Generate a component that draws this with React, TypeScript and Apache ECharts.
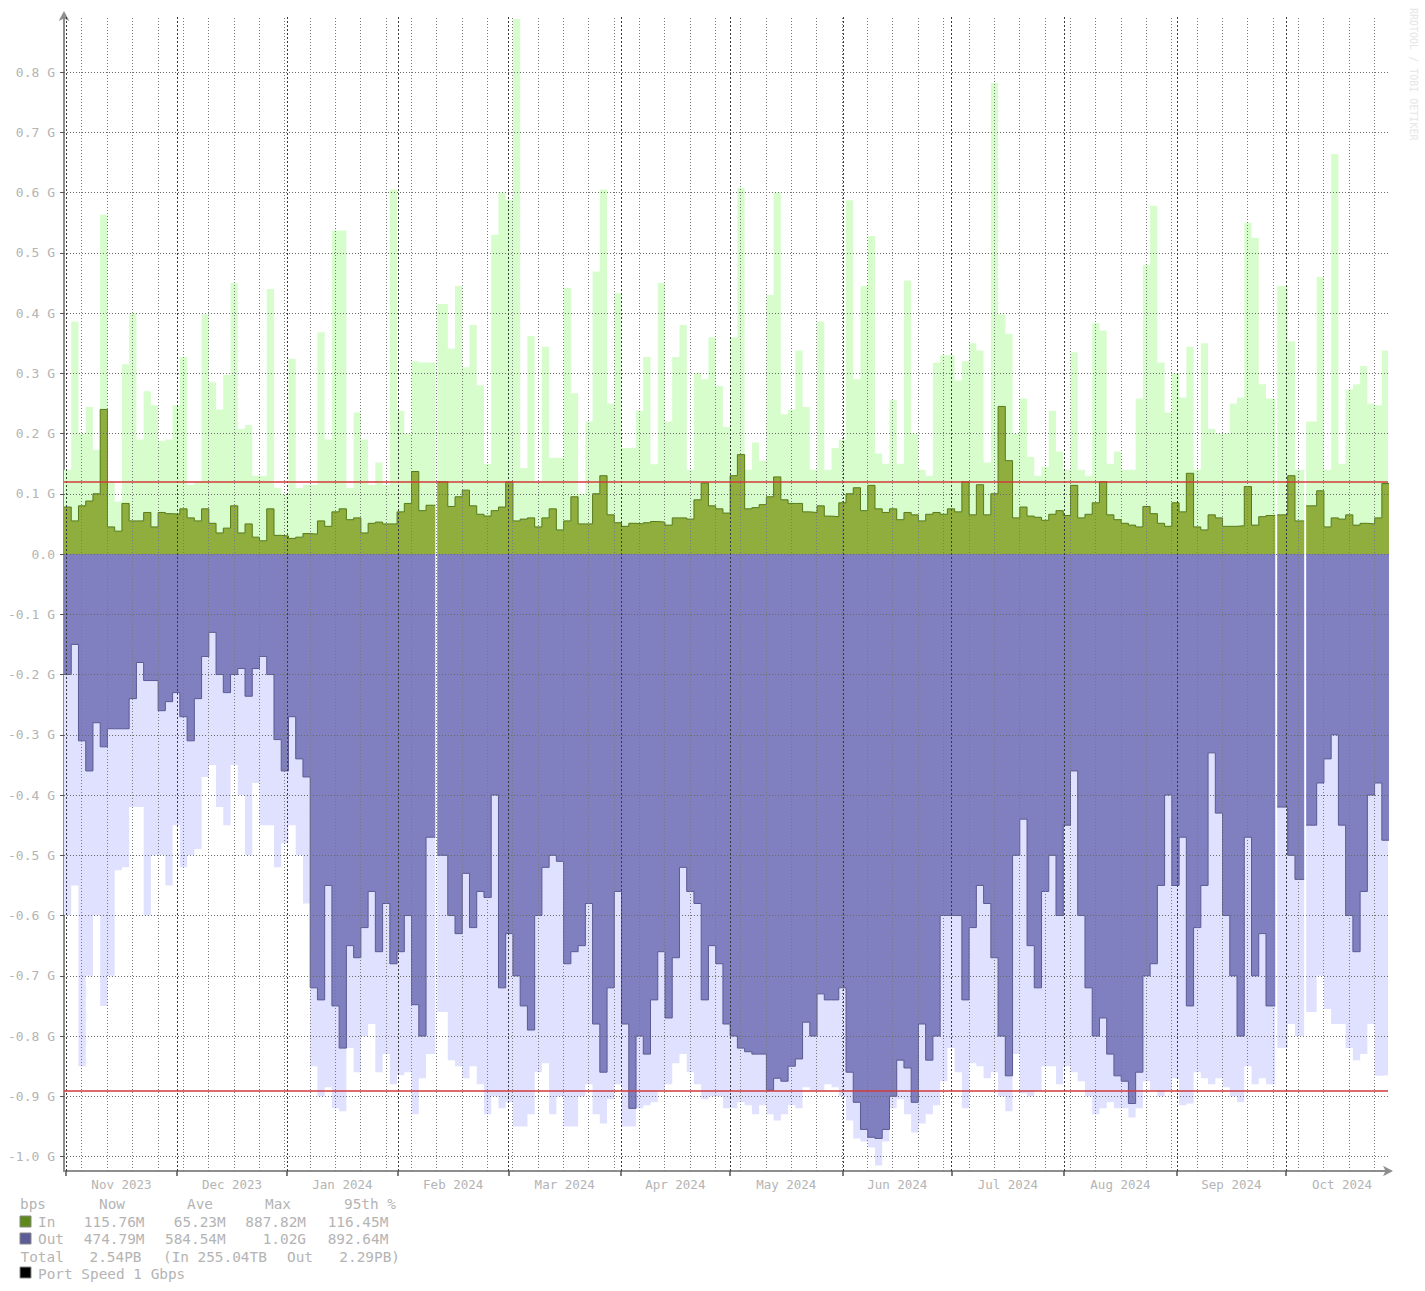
import React, { useEffect, useRef } from 'react';
import * as echarts from 'echarts';

// ---- axis / label data ----
const monthLabels = ['Nov 2023', 'Dec 2023', 'Jan 2024', 'Feb 2024', 'Mar 2024', 'Apr 2024',
  'May 2024', 'Jun 2024', 'Jul 2024', 'Aug 2024', 'Sep 2024', 'Oct 2024'];
// day offsets (from graph start) of the month boundaries; last entry closes October
const monthStartDays = [0.55, 31.2, 61.6, 92.2, 122.8, 153.8, 183.9, 215.1, 245.2, 276.2, 307.4, 337.5, 368.5];
const FIRST_WEEK_DAY = 4.9;
const yTickValues = [-1.0, -0.9, -0.8, -0.7, -0.6, -0.5, -0.4, -0.3, -0.2, -0.1, 0, 0.1, 0.2, 0.3, 0.4, 0.5, 0.6, 0.7, 0.8];

const DAYS_PER_POINT = 2;
const GAP_DAYS = 1.1;
const X_MAX = 365.7;
const Y_MIN = -1.024;
const Y_MAX = 0.893;

// ---- series values (Gbps), one value per 2 days; null = missing data ----
const inAvg: (number | null)[] = [
  0.078, 0.055, 0.08, 0.088, 0.1, 0.24, 0.045, 0.038, 0.084, 0.055,
  0.055, 0.069, 0.045, 0.069, 0.067, 0.066, 0.075, 0.06, 0.055, 0.075,
  0.051, 0.035, 0.043, 0.08, 0.035, 0.05, 0.028, 0.022, 0.075, 0.031,
  0.03, 0.026, 0.028, 0.034, 0.033, 0.055, 0.046, 0.07, 0.075, 0.057,
  0.06, 0.035, 0.051, 0.053, 0.05, 0.05, 0.07, 0.084, 0.137, 0.072,
  0.081, null, 0.12, 0.079, 0.095, 0.106, 0.08, 0.066, 0.063, 0.072,
  0.078, 0.12, 0.055, 0.058, 0.06, 0.045, 0.06, 0.075, 0.04, 0.055,
  0.095, 0.05, 0.05, 0.1, 0.13, 0.065, 0.052, 0.046, 0.051, 0.05,
  0.052, 0.054, 0.053, 0.048, 0.06, 0.06, 0.058, 0.09, 0.118, 0.08,
  0.075, 0.068, 0.13, 0.165, 0.075, 0.077, 0.082, 0.095, 0.128, 0.09,
  0.084, 0.084, 0.07, 0.069, 0.08, 0.063, 0.062, 0.085, 0.1, 0.11,
  0.072, 0.114, 0.075, 0.069, 0.075, 0.057, 0.069, 0.065, 0.055, 0.066,
  0.069, 0.066, 0.075, 0.07, 0.12, 0.065, 0.115, 0.065, 0.1, 0.245,
  0.155, 0.06, 0.078, 0.063, 0.061, 0.056, 0.066, 0.072, 0.064, 0.114,
  0.06, 0.066, 0.085, 0.12, 0.065, 0.057, 0.051, 0.048, 0.045, 0.079,
  0.067, 0.051, 0.046, 0.085, 0.07, 0.134, 0.045, 0.04, 0.065, 0.06,
  0.046, 0.046, 0.047, 0.112, 0.048, 0.062, 0.064, null, 0.065, 0.13,
  0.055, null, 0.08, 0.105, 0.045, 0.06, 0.058, 0.065, 0.048, 0.051,
  0.05, 0.06, 0.117,
];

const inMax: (number | null)[] = [
  0.14, 0.386, 0.2, 0.244, 0.173, 0.563, 0.12, 0.087, 0.315, 0.4,
  0.19, 0.27, 0.247, 0.188, 0.19, 0.247, 0.327, 0.115, 0.12, 0.398,
  0.285, 0.24, 0.297, 0.45, 0.208, 0.214, 0.13, 0.13, 0.44, 0.11,
  0.1, 0.324, 0.11, 0.115, 0.115, 0.368, 0.19, 0.537, 0.537, 0.11,
  0.235, 0.19, 0.115, 0.152, 0.115, 0.605, 0.238, 0.2, 0.32, 0.318,
  0.318, null, 0.415, 0.341, 0.445, 0.31, 0.38, 0.28, 0.15, 0.53,
  0.6, 0.588, 0.888, 0.143, 0.362, 0.12, 0.344, 0.16, 0.16, 0.442,
  0.267, 0.1, 0.22, 0.469, 0.605, 0.25, 0.433, 0.176, 0.176, 0.238,
  0.327, 0.149, 0.45, 0.22, 0.327, 0.38, 0.14, 0.3, 0.29, 0.36,
  0.279, 0.211, 0.36, 0.608, 0.14, 0.185, 0.155, 0.43, 0.6, 0.232,
  0.24, 0.338, 0.244, 0.14, 0.386, 0.14, 0.176, 0.19, 0.587, 0.29,
  0.445, 0.528, 0.167, 0.15, 0.256, 0.15, 0.454, 0.2, 0.14, 0.13,
  0.318, 0.33, 0.33, 0.288, 0.32, 0.35, 0.338, 0.152, 0.782, 0.398,
  0.365, 0.2, 0.258, 0.161, 0.13, 0.145, 0.238, 0.17, 0.14, 0.335,
  0.14, 0.13, 0.383, 0.371, 0.15, 0.17, 0.14, 0.14, 0.258, 0.48,
  0.578, 0.318, 0.235, 0.3, 0.26, 0.344, 0.14, 0.35, 0.208, 0.2,
  0.2, 0.25, 0.26, 0.55, 0.525, 0.282, 0.258, null, 0.445, 0.353,
  0.14, null, 0.22, 0.46, 0.14, 0.664, 0.15, 0.273, 0.282, 0.312,
  0.25, 0.247, 0.338,
];

const outAvg: (number | null)[] = [
  0.2, 0.15, 0.31, 0.36, 0.28, 0.32, 0.29, 0.29, 0.29, 0.24,
  0.18, 0.21, 0.21, 0.26, 0.245, 0.23, 0.27, 0.31, 0.24, 0.17,
  0.13, 0.2, 0.23, 0.2, 0.19, 0.236, 0.19, 0.17, 0.2, 0.308,
  0.36, 0.27, 0.34, 0.37, 0.72, 0.74, 0.55, 0.75, 0.82, 0.65,
  0.67, 0.62, 0.56, 0.66, 0.58, 0.68, 0.66, 0.6, 0.748, 0.8,
  0.47, null, 0.5, 0.6, 0.63, 0.53, 0.62, 0.56, 0.57, 0.4,
  0.72, 0.63, 0.7, 0.75, 0.79, 0.6, 0.52, 0.5, 0.51, 0.68,
  0.66, 0.65, 0.58, 0.78, 0.86, 0.72, 0.56, 0.78, 0.92, 0.8,
  0.83, 0.74, 0.66, 0.77, 0.67, 0.52, 0.56, 0.58, 0.74, 0.65,
  0.68, 0.78, 0.8, 0.82, 0.826, 0.83, 0.83, 0.89, 0.87, 0.875,
  0.85, 0.838, 0.777, 0.8, 0.73, 0.74, 0.74, 0.72, 0.86, 0.91,
  0.955, 0.968, 0.97, 0.955, 0.9, 0.84, 0.853, 0.91, 0.78, 0.84,
  0.8, 0.6, 0.6, 0.6, 0.74, 0.62, 0.55, 0.58, 0.67, 0.8,
  0.866, 0.5, 0.44, 0.65, 0.72, 0.56, 0.5, 0.6, 0.45, 0.36,
  0.6, 0.72, 0.8, 0.77, 0.83, 0.866, 0.875, 0.912, 0.86, 0.7,
  0.68, 0.55, 0.4, 0.55, 0.47, 0.75, 0.62, 0.55, 0.33, 0.43,
  0.6, 0.7, 0.8, 0.47, 0.7, 0.63, 0.75, null, 0.42, 0.5,
  0.54, null, 0.45, 0.38, 0.34, 0.3, 0.45, 0.6, 0.66, 0.56,
  0.4, 0.38, 0.475,
];

const outMax: (number | null)[] = [
  0.6, 0.55, 0.85, 0.7, 0.6, 0.75, 0.7, 0.525, 0.52, 0.42,
  0.42, 0.6, 0.5, 0.5, 0.55, 0.45, 0.52, 0.5, 0.49, 0.37,
  0.35, 0.42, 0.45, 0.35, 0.4, 0.5, 0.38, 0.45, 0.45, 0.52,
  0.48, 0.45, 0.5, 0.58, 0.85, 0.9, 0.885, 0.92, 0.925, 0.82,
  0.86, 0.8, 0.78, 0.86, 0.83, 0.88, 0.865, 0.86, 0.93, 0.87,
  0.83, null, 0.76, 0.84, 0.85, 0.87, 0.85, 0.88, 0.93, 0.9,
  0.92, 0.91, 0.95, 0.95, 0.93, 0.86, 0.845, 0.93, 0.9, 0.95,
  0.95, 0.9, 0.88, 0.93, 0.945, 0.905, 0.88, 0.95, 0.95, 0.92,
  0.915, 0.91, 0.89, 0.88, 0.845, 0.83, 0.86, 0.88, 0.905, 0.9,
  0.9, 0.92, 0.92, 0.91, 0.915, 0.93, 0.915, 0.93, 0.94, 0.93,
  0.915, 0.92, 0.885, 0.89, 0.89, 0.88, 0.885, 0.9, 0.94, 0.97,
  0.975, 0.985, 1.015, 0.975, 0.92, 0.905, 0.93, 0.96, 0.945, 0.93,
  0.915, 0.875, 0.82, 0.86, 0.92, 0.845, 0.85, 0.87, 0.86, 0.9,
  0.925, 0.83, 0.895, 0.9, 0.89, 0.85, 0.85, 0.88, 0.85, 0.86,
  0.875, 0.9, 0.93, 0.92, 0.91, 0.92, 0.92, 0.935, 0.92, 0.875,
  0.89, 0.9, 0.89, 0.87, 0.915, 0.912, 0.86, 0.87, 0.88, 0.87,
  0.885, 0.9, 0.91, 0.85, 0.88, 0.87, 0.88, null, 0.82, 0.78,
  0.8, null, 0.76, 0.7, 0.755, 0.78, 0.78, 0.82, 0.84, 0.83,
  0.78, 0.866, 0.865,
];

const pct95In = 0.11645;
const pct95Out = 0.89264;

// ---- legend text ----
const legendHeader = ['Now', 'Ave', 'Max', '95th %'];
const legendIn = ['115.76M', '65.23M', '887.82M', '116.45M'];
const legendOut = ['474.79M', '584.54M', '1.02G', '892.64M'];
const totalRow = ['Total', '2.54PB', '(In', '255.04TB', 'Out', '2.29PB)'];

function toPoints(vals: (number | null)[], sign: number) {
  const pts: any[] = [];
  const n = vals.length;
  for (let i = 0; i < n; i++) {
    const x = i * DAYS_PER_POINT;
    const v = vals[i];
    if (v === null) {
      const prev = vals[i - 1] as number;
      const next = vals[i + 1] as number;
      pts.push([x, sign * prev]);
      pts.push([x + GAP_DAYS / 2, '-']);
      pts.push([x + GAP_DAYS, sign * next]);
    } else {
      pts.push([x, sign * v]);
    }
  }
  pts.push([n * DAYS_PER_POINT, sign * (vals[n - 1] as number)]);
  return pts;
}

const MONO = '"DejaVu Sans Mono", monospace';
const TXT = '#b4b4b4';

export default function App() {
  const ref = useRef<HTMLDivElement>(null);
  useEffect(() => {
    if (!ref.current) return;
    const chart = echarts.init(ref.current, undefined, { renderer: 'svg' });

    const monthMids = monthLabels.map((_, i) => (monthStartDays[i] + monthStartDays[i + 1]) / 2);
    const weekDays: number[] = [];
    for (let d = FIRST_WEEK_DAY; d < X_MAX; d += 7) weekDays.push(d);

    const gridLines: any[] = [];
    yTickValues.forEach((v) => gridLines.push({ yAxis: v, lineStyle: { color: '#6a6a6a', type: [1, 2], width: 1 } }));
    weekDays.forEach((d) => gridLines.push({ xAxis: d, lineStyle: { color: '#7a7a7a', type: [1, 2], width: 1 } }));
    monthStartDays.slice(0, 12).forEach((d) => gridLines.push({ xAxis: d, lineStyle: { color: '#3a3a3a', type: [2, 2], width: 1 } }));

    const text = (x: number, y: number, t: string, align = 'left', font = `14.4px ${MONO}`, fill = TXT) => ({
      type: 'text', x, y, silent: true,
      style: { text: t, fill, font, textAlign: align, textVerticalAlign: 'middle' },
    });
    const square = (x: number, y: number, color: string) => ({
      type: 'rect', shape: { x, y, width: 11, height: 11 }, silent: true,
      style: { fill: color, stroke: '#888', lineWidth: 1 },
    });
    const rightCols = [144.5, 225.7, 306, 388.3];
    const headerCols = [99, 187, 265, 344];

    const graphics: any[] = [
      text(20, 1204, 'bps'),
      ...legendHeader.map((t, i) => text(headerCols[i], 1204, t)),
      square(20, 1216, '#5e8a1c'),
      text(38, 1221.5, 'In'),
      ...legendIn.map((t, i) => text(rightCols[i], 1221.5, t, 'right')),
      square(20, 1233, '#5c5c98'),
      text(38, 1239, 'Out'),
      ...legendOut.map((t, i) => text(rightCols[i], 1239, t, 'right')),
      text(20.5, 1256.5, totalRow[0]),
      text(141.5, 1256.5, totalRow[1], 'right'),
      text(163, 1256.5, totalRow[2]),
      text(197.5, 1256.5, totalRow[3]),
      text(287, 1256.5, totalRow[4]),
      text(400, 1256.5, totalRow[5], 'right'),
      square(20, 1267, '#000000'),
      text(38, 1273.5, 'Port Speed 1 Gbps'),
      {
        type: 'text', x: 1413, y: 8, rotation: -Math.PI / 2, silent: true,
        style: { text: 'RRDTOOL / TOBI OETIKER', fill: '#e6e6e6', font: `10px ${MONO}`, textAlign: 'left', textVerticalAlign: 'middle' },
      },
    ];

    const areaSeries = (name: string, data: any[], fill: string, line: string | null, z: number) => ({
      name, type: 'line', step: 'end', data, z,
      showSymbol: false, symbol: 'none', silent: true, connectNulls: false,
      lineStyle: line ? { color: line, width: 1 } : { width: 0, opacity: 0 },
      areaStyle: { color: fill, opacity: 1 },
    });

    chart.setOption({
      animation: false,
      backgroundColor: '#ffffff',
      grid: { left: 64, right: 37, top: 16, bottom: 120, containLabel: false, outerBoundsMode: 'none' },
      xAxis: {
        type: 'value', min: 0, max: X_MAX,
        splitLine: { show: false },
        axisLine: {
          show: true, onZero: false,
          lineStyle: { color: '#8e8e8e', width: 2 },
          symbol: ['none', 'arrow'], symbolSize: [8, 10], symbolOffset: [0, 5],
        },
        axisTick: { show: true, customValues: monthStartDays.slice(0, 12), length: 5, lineStyle: { color: '#555', width: 1.5 } },
        axisLabel: {
          customValues: monthMids,
          formatter: (v: number) => {
            const i = monthMids.findIndex((m) => Math.abs(m - v) < 1e-6);
            return i >= 0 ? monthLabels[i] : '';
          },
          color: TXT, fontFamily: MONO, fontSize: 12.5, margin: 7,
        },
      },
      yAxis: {
        type: 'value', min: Y_MIN, max: Y_MAX,
        splitLine: { show: false },
        axisLine: {
          show: true, onZero: false,
          lineStyle: { color: '#8e8e8e', width: 2 },
          symbol: ['none', 'arrow'], symbolSize: [8, 10], symbolOffset: [0, 5],
        },
        axisTick: { show: true, customValues: yTickValues, length: 4, lineStyle: { color: '#555' } },
        axisLabel: {
          customValues: yTickValues,
          formatter: (v: number) => (Math.abs(v) < 1e-9 ? '0.0' : `${v.toFixed(1)} G`),
          color: TXT, fontFamily: MONO, fontSize: 13, margin: 9,
        },
      },
      series: [
        areaSeries('In max', toPoints(inMax, 1), '#d7fdcd', null, 1),
        areaSeries('Out max', toPoints(outMax, -1), '#e0e0ff', null, 1),
        areaSeries('In', toPoints(inAvg, 1), '#90ae3e', '#567a1a', 2),
        areaSeries('Out', toPoints(outAvg, -1), '#8080c0', '#5a5a94', 2),
        {
          name: 'grid', type: 'line', data: [], z: 5, silent: true,
          markLine: { silent: true, symbol: ['none', 'none'], label: { show: false }, animation: false, data: gridLines },
        },
        {
          name: '95th', type: 'line', data: [], z: 6, silent: true,
          markLine: {
            silent: true, symbol: ['none', 'none'], label: { show: false }, animation: false,
            lineStyle: { color: '#d23a3a', width: 1.6, type: 'solid' },
            data: [{ yAxis: pct95In }, { yAxis: -pct95Out }],
          },
        },
      ],
      graphic: { elements: graphics },
    });
    return () => chart.dispose();
  }, []);
  return <div ref={ref} style={{ position: 'fixed', left: 0, top: 0, width: 1425, height: 1291, background: '#fff' }} />;
}
